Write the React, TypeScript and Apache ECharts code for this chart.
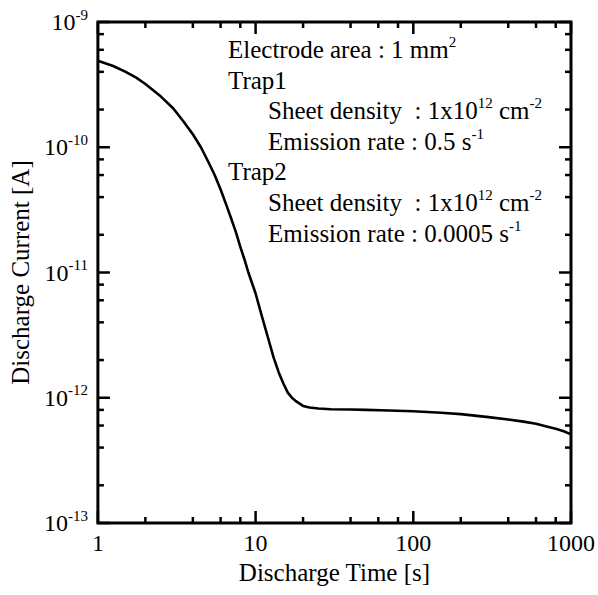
import React, { useEffect, useRef } from 'react';
import * as echarts from 'echarts';

// Discharge time [s] and discharge current [A]
const timeS = [
  1, 1.25, 1.5, 1.75, 2, 2.5, 3, 3.5, 4, 4.5, 5, 5.5, 6, 6.5, 7, 7.5, 8, 8.5, 9, 9.5,
  10, 11, 12, 13, 14, 15, 16, 17, 18, 20, 22, 25, 30, 40, 50, 70, 100, 150, 200, 300,
  400, 500, 600, 700, 800, 900, 1000,
];
const currentA = [
  4.9e-10, 4.45e-10, 4.0e-10, 3.6e-10, 3.2e-10, 2.55e-10, 2.05e-10, 1.6e-10, 1.27e-10, 1.0e-10,
  7.7e-11, 6.0e-11, 4.6e-11, 3.5e-11, 2.7e-11, 2.1e-11, 1.6e-11, 1.27e-11, 1.0e-11, 8.2e-12,
  6.8e-12, 4.4e-12, 3.0e-12, 2.1e-12, 1.6e-12, 1.3e-12, 1.1e-12, 1.0e-12, 9.4e-13, 8.6e-13,
  8.35e-13, 8.2e-13, 8.1e-13, 8.05e-13, 8.0e-13, 7.9e-13, 7.8e-13, 7.6e-13, 7.4e-13, 7.0e-13,
  6.7e-13, 6.45e-13, 6.2e-13, 5.9e-13, 5.65e-13, 5.4e-13, 5.1e-13,
];

const xMajorTicks = [1, 10, 100, 1000];
const yMajorTicks = [1e-13, 1e-12, 1e-11, 1e-10, 1e-9];
const minorSteps = [2, 4, 6, 8];
const xDecades = [1, 10, 100];
const yDecades = [1e-13, 1e-12, 1e-11, 1e-10];

const xAxisName = 'Discharge Time [s]';
const yAxisName = 'Discharge Current [A]';

// annotation lines: indent level + rich-text string
const annotationLines = [
  { indent: 0, text: '{t|Electrode area : 1 mm}{s|2}' },
  { indent: 0, text: '{t|Trap1}' },
  { indent: 1, text: '{t|Sheet density  : 1x10}{s|12}{t| cm}{s|-2}' },
  { indent: 1, text: '{t|Emission rate : 0.5 s}{s|-1}' },
  { indent: 0, text: '{t|Trap2}' },
  { indent: 1, text: '{t|Sheet density  : 1x10}{s|12}{t| cm}{s|-2}' },
  { indent: 1, text: '{t|Emission rate : 0.0005 s}{s|-1}' },
];

const FONT = 'Liberation Serif';
const FS = 25;
const FS_TICK = 24;
const SUP = 15;

function tickSeries(data: number[][], kind: 'x' | 'y', len: number) {
  return {
    type: 'custom',
    silent: true,
    clip: false,
    z: 5,
    data,
    encode: { x: 0, y: 1 },
    renderItem: (params: any, api: any) => {
      const cs = params.coordSys;
      const p = api.coord([api.value(0), api.value(1)]);
      const style = { stroke: '#000', lineWidth: 2.5 };
      if (kind === 'x') {
        const b = cs.y + cs.height;
        return {
          type: 'group',
          children: [
            { type: 'line', shape: { x1: p[0], y1: b, x2: p[0], y2: b - len }, style },
            { type: 'line', shape: { x1: p[0], y1: cs.y, x2: p[0], y2: cs.y + len }, style },
          ],
        };
      }
      const r = cs.x + cs.width;
      return {
        type: 'group',
        children: [
          { type: 'line', shape: { x1: cs.x, y1: p[1], x2: cs.x + len, y2: p[1] }, style },
          { type: 'line', shape: { x1: r, y1: p[1], x2: r - len, y2: p[1] }, style },
        ],
      };
    },
  };
}

export default function App() {
  const ref = useRef<HTMLDivElement>(null);

  useEffect(() => {
    if (!ref.current) return;
    const chart = echarts.init(ref.current, null, { renderer: 'svg' });

    const xMinor = xDecades.flatMap((d) => minorSteps.map((m) => [d * m, 1e-11]));
    const yMinor = yDecades.flatMap((d) => minorSteps.map((m) => [2, d * m]));
    const xMajor = xMajorTicks.map((v) => [v, 1e-11]);
    const yMajor = yMajorTicks.map((v) => [2, v]);

    const richMain = { fontSize: FS, fontFamily: FONT, color: '#000', lineHeight: 30 };
    const richTick = { fontSize: FS_TICK, fontFamily: FONT, color: '#000', lineHeight: 30 };
    const richSup = { fontSize: SUP, fontFamily: FONT, color: '#000', verticalAlign: 'top', lineHeight: 15 };

    chart.setOption({
      animation: false,
      backgroundColor: '#fff',
      textStyle: { fontFamily: FONT, color: '#000' },
      grid: {
        left: 96,
        right: 27,
        top: 22,
        bottom: 72,
        show: true,
        borderColor: '#000',
        borderWidth: 3,
        backgroundColor: 'transparent',
      },
      xAxis: {
        type: 'log',
        logBase: 10,
        min: 1,
        max: 1000,
        name: xAxisName,
        nameLocation: 'middle',
        nameGap: 23,
        nameTextStyle: { fontSize: FS, fontFamily: FONT, color: '#000' },
        axisLine: { show: false },
        axisTick: { show: false },
        splitLine: { show: false },
        axisLabel: {
          margin: 8,
          fontSize: FS_TICK,
          fontFamily: FONT,
          color: '#000',
          showMinLabel: true,
          showMaxLabel: true,
          formatter: (v: number) => String(Math.round(v)),
        },
      },
      yAxis: {
        type: 'log',
        logBase: 10,
        min: 1e-13,
        max: 1e-9,
        name: yAxisName,
        nameLocation: 'middle',
        nameGap: 62,
        nameTextStyle: { fontSize: FS, fontFamily: FONT, color: '#000' },
        axisLine: { show: false },
        axisTick: { show: false },
        splitLine: { show: false },
        axisLabel: {
          margin: 10,
          showMinLabel: true,
          showMaxLabel: true,
          formatter: (v: number) => `{b|10}{s|${Math.round(Math.log10(v))}}`,
          rich: { b: richTick, s: richSup },
        },
      },
      series: [
        {
          type: 'line',
          data: timeS.map((t, i) => [t, currentA[i]]),
          showSymbol: false,
          smooth: false,
          lineStyle: { color: '#000', width: 2.6, join: 'round' },
          z: 3,
        },
        tickSeries(xMajor, 'x', 12),
        tickSeries(xMinor, 'x', 6),
        tickSeries(yMajor, 'y', 12),
        tickSeries(yMinor, 'y', 6),
      ],
      graphic: annotationLines.map((ln, i) => ({
        type: 'text',
        x: ln.indent === 0 ? 228 : 268,
        y: 49.5 + i * 30.6,
        silent: true,
        style: {
          text: ln.text,
          verticalAlign: 'middle',
          align: 'left',
          rich: { t: richMain, s: richSup },
        },
      })),
    });

    return () => chart.dispose();
  }, []);

  return (
    <div
      ref={ref}
      style={{ position: 'fixed', left: 0, top: 0, width: 598, height: 595, background: '#fff' }}
    />
  );
}
